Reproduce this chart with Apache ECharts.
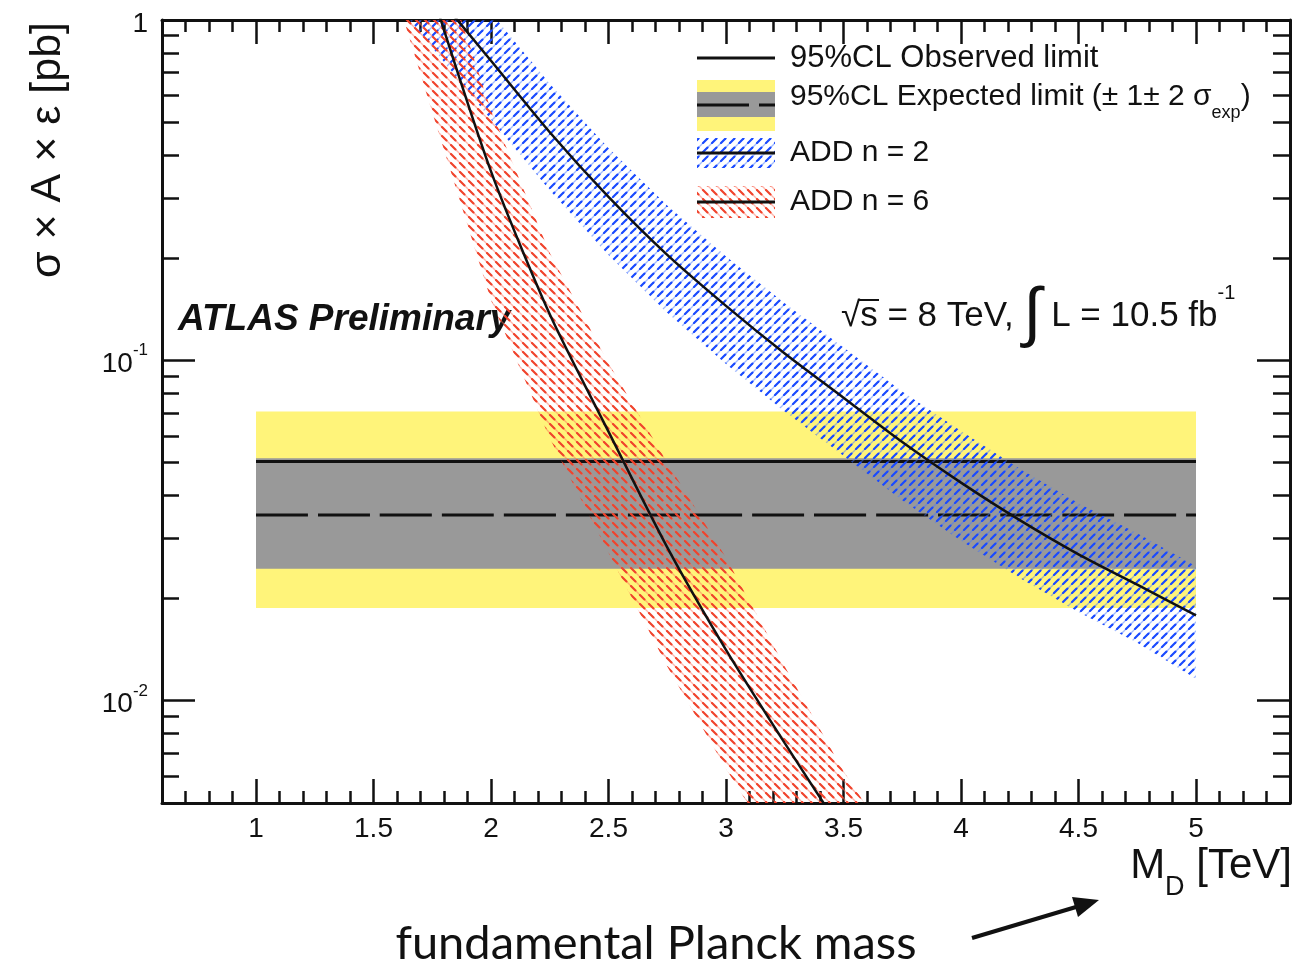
<!DOCTYPE html>
<html>
<head>
<meta charset="utf-8">
<title>ADD limits</title>
<script src="https://cdn.jsdelivr.net/npm/echarts@6/dist/echarts.min.js"></script>
<style>
  html, body { margin: 0; padding: 0; background: #fff; }
  #chart { width: 1307px; height: 972px; }
</style>
</head>
<body>
<div id="chart"></div>
<script>
// ---- data -------------------------------------------------------------
// M_D [TeV] grid for the ADD signal curves
const ADD2_MD = [1.5, 1.75, 2.0, 2.25, 2.5, 2.75, 3.0, 3.25, 3.5, 3.75, 4.0, 4.25, 4.5, 4.75, 5.0];
// ADD n=2: sigma x A x eps [pb], central value and theory band
const ADD2_XS    = [2.02, 1.23, 0.759, 0.468, 0.302, 0.204, 0.1445, 0.1047, 0.0776, 0.0575, 0.0437, 0.0339, 0.0269, 0.0219, 0.0178];
const ADD2_XS_HI = [2.79, 1.70, 1.05, 0.65, 0.42, 0.285, 0.202, 0.147, 0.109, 0.081, 0.062, 0.048, 0.038, 0.031, 0.0248];
const ADD2_XS_LO = [1.36, 0.83, 0.51, 0.316, 0.204, 0.138, 0.0975, 0.0707, 0.0524, 0.0388, 0.0295, 0.0229, 0.0182, 0.0148, 0.0116];

const ADD6_MD = [1.5, 1.75, 2.0, 2.25, 2.5, 2.75, 3.0, 3.25, 3.5, 3.75];
// ADD n=6
const ADD6_XS    = [4.4, 1.20, 0.359, 0.1365, 0.0617, 0.0282, 0.0141, 0.0075, 0.00407, 0.00224];
const ADD6_XS_HI = [6.6, 1.82, 0.543, 0.2065, 0.098, 0.050, 0.0263, 0.0126, 0.0062, 0.0034];
const ADD6_XS_LO = [1.95, 0.536, 0.150, 0.059, 0.0272, 0.0126, 0.0063, 0.00335, 0.00182, 0.0010];

// Model-independent 95% CL limits on sigma x A x eps [pb]
const LIMIT_MD       = [1, 5];
const OBSERVED_LIMIT = [0.0504, 0.0504];
const EXPECTED_LIMIT = [0.0351, 0.0351];
const EXP_1S_LO = [0.0244, 0.0244];
const EXP_1S_HI = [0.0515, 0.0515];
const EXP_2S_LO = [0.0187, 0.0187];
const EXP_2S_HI = [0.0707, 0.0707];

// axis ticks
const X_LABELS = [1, 1.5, 2, 2.5, 3, 3.5, 4, 4.5, 5];
const Y_LABELS = [0.01, 0.1, 1];
const Y_MINOR  = [0.006, 0.007, 0.008, 0.009,
                  0.02, 0.03, 0.04, 0.05, 0.06, 0.07, 0.08, 0.09,
                  0.2, 0.3, 0.4, 0.5, 0.6, 0.7, 0.8, 0.9];
const X_MINOR = [];
for (let k = 7; k <= 53; k++) { if (k % 5 !== 0) X_MINOR.push(k / 10); }

// ---- styling helpers ----------------------------------------------------
const FONT = "'Liberation Sans', Arial, Helvetica, sans-serif";
const INK = '#111';

function hatch(color, faint, dir) {
  const s = 9;
  const c = document.createElement('canvas');
  c.width = s; c.height = s;
  const g = c.getContext('2d');
  g.lineCap = 'round';
  for (let o = -s; o <= s; o += s) {
    g.strokeStyle = faint; g.lineWidth = 1.3;
    g.beginPath();
    if (dir > 0) { g.moveTo(o, s); g.lineTo(o + s, 0); }
    else { g.moveTo(o, 0); g.lineTo(o + s, s); }
    g.stroke();
    g.strokeStyle = color; g.lineWidth = 2.1;
    g.beginPath();
    if (dir > 0) { g.moveTo(o + 1, s - 1); g.lineTo(o + 5.5, s - 5.5); }
    else { g.moveTo(o + 1, 1); g.lineTo(o + 5.5, 5.5); }
    g.stroke();
  }
  return { image: c, repeat: 'repeat' };
}
const BLUE_HATCH = hatch('#1a4aff', 'rgba(70,120,255,0.5)', 1);
const RED_HATCH  = hatch('#f0432c', 'rgba(255,110,90,0.5)', -1);
const YELLOW = '#fff47a';
const GRAY = '#999999';

function band(name, xs, lo, hi, fill, z) {
  return {
    type: 'custom', name: name, xAxisIndex: 0, yAxisIndex: 0,
    clip: true, silent: true, z: z,
    data: [[xs[xs.length - 1], lo[lo.length - 1]]],
    renderItem: function (params, api) {
      const pts = [];
      for (let i = 0; i < xs.length; i++) pts.push(api.coord([xs[i], hi[i]]));
      for (let i = xs.length - 1; i >= 0; i--) pts.push(api.coord([xs[i], lo[i]]));
      return { type: 'polygon', shape: { points: pts }, style: { fill: fill } };
    }
  };
}
function curve(name, xs, ys, width, type, z) {
  return {
    type: 'line', name: name, xAxisIndex: 0, yAxisIndex: 0,
    data: xs.map((x, i) => [x, ys[i]]),
    symbol: 'none', smooth: 0.25, clip: true, silent: true, z: z,
    lineStyle: { color: INK, width: width, type: type || 'solid' }
  };
}

function xAxisDef(pos, ticks, len, withLine, withLabels) {
  return {
    type: 'value', position: pos, min: 0.6, max: 5.4,
    axisLine: { show: withLine, onZero: false, lineStyle: { color: INK, width: 3 } },
    axisTick: { show: true, inside: true, length: len, customValues: ticks,
                lineStyle: { color: INK, width: 2.5 } },
    axisLabel: withLabels ? {
      show: true, customValues: X_LABELS, margin: 12,
      fontFamily: FONT, fontSize: 28, color: INK
    } : { show: false },
    splitLine: { show: false }
  };
}
function yAxisDef(pos, ticks, len, withLine, withLabels) {
  return {
    type: 'log', logBase: 10, position: pos, min: 0.005, max: 1,
    axisLine: { show: withLine, onZero: false, lineStyle: { color: INK, width: 3 } },
    axisTick: { show: true, inside: true, length: len, customValues: ticks,
                lineStyle: { color: INK, width: 2.5 } },
    axisLabel: withLabels ? {
      show: true, customValues: Y_LABELS, margin: 14,
      formatter: function (v) {
        if (Math.abs(v - 1) < 1e-9) return '{b|1}';
        return '{b|10}{s|' + Math.round(Math.log10(v)) + '}';
      },
      rich: {
        b: { fontFamily: FONT, fontSize: 28, color: INK, lineHeight: 36, verticalAlign: 'bottom' },
        s: { fontFamily: FONT, fontSize: 17, color: INK, lineHeight: 17, verticalAlign: 'top' }
      }
    } : { show: false },
    splitLine: { show: false }
  };
}

// ---- legend / annotation graphics ----------------------------------------
const LX0 = 697, LX1 = 775, TX = 790;
const legendGraphics = [
  { type: 'line', shape: { x1: LX0, y1: 58, x2: LX1, y2: 58 }, style: { stroke: INK, lineWidth: 3 } },
  { type: 'text', x: TX, y: 58, style: { text: '95%CL Observed limit', font: '31px ' + FONT, fill: INK, verticalAlign: 'middle' } },

  { type: 'rect', shape: { x: LX0, y: 80, width: LX1 - LX0, height: 51 }, style: { fill: YELLOW } },
  { type: 'rect', shape: { x: LX0, y: 92, width: LX1 - LX0, height: 25 }, style: { fill: GRAY } },
  { type: 'line', shape: { x1: LX0, y1: 105, x2: LX1, y2: 105 }, style: { stroke: INK, lineWidth: 3, lineDash: [52, 10] } },
  { type: 'text', x: TX, y: 102, style: {
      text: '{m|95%CL Expected limit (± 1± 2 σ}{s|exp}{m|)}', verticalAlign: 'middle',
      rich: {
        m: { font: '30px ' + FONT, fill: INK, lineHeight: 40, verticalAlign: 'top' },
        s: { font: '18px ' + FONT, fill: INK, lineHeight: 18, verticalAlign: 'bottom' }
      } } },

  { type: 'rect', shape: { x: LX0, y: 138, width: LX1 - LX0, height: 30 }, style: { fill: BLUE_HATCH } },
  { type: 'line', shape: { x1: LX0, y1: 153, x2: LX1, y2: 153 }, style: { stroke: INK, lineWidth: 3 } },
  { type: 'text', x: TX, y: 153, style: { text: 'ADD n = 2', font: '30px ' + FONT, fill: INK, verticalAlign: 'middle' } },

  { type: 'rect', shape: { x: LX0, y: 186, width: LX1 - LX0, height: 32 }, style: { fill: RED_HATCH } },
  { type: 'line', shape: { x1: LX0, y1: 202, x2: LX1, y2: 202 }, style: { stroke: INK, lineWidth: 3 } },
  { type: 'text', x: TX, y: 202, style: { text: 'ADD n = 6', font: '30px ' + FONT, fill: INK, verticalAlign: 'middle' } },

  { type: 'text', x: 178, y: 320, style: { text: 'ATLAS Preliminary', font: 'italic bold 37px ' + FONT, fill: INK, verticalAlign: 'middle' } },

  { type: 'text', x: 841, y: 316, style: {
      text: '{m|√s = 8 TeV, }{i|∫}{m| L = 10.5 fb}{p|-1}', verticalAlign: 'middle',
      rich: {
        m: { font: '35px ' + FONT, fill: INK, lineHeight: 66, verticalAlign: 'middle' },
        i: { font: '66px ' + FONT, fill: INK, lineHeight: 66, verticalAlign: 'middle' },
        p: { font: '20px ' + FONT, fill: INK, lineHeight: 20, verticalAlign: 'top' }
      } } },
  { type: 'line', shape: { x1: 859, y1: 300, x2: 879, y2: 300 }, style: { stroke: INK, lineWidth: 2 } },

  // axis titles
  { type: 'text', x: 48, y: 150, rotation: Math.PI / 2, style: {
      text: 'σ × A × ε [pb]', font: '43px ' + FONT, fill: INK, align: 'center', verticalAlign: 'middle' } },
  { type: 'text', x: 1292, y: 873, style: {
      text: '{m|M}{s|D}{m| [TeV]}', align: 'right', verticalAlign: 'middle',
      rich: {
        m: { font: '42px ' + FONT, fill: INK, lineHeight: 56, verticalAlign: 'top' },
        s: { font: '27px ' + FONT, fill: INK, lineHeight: 27, verticalAlign: 'bottom' }
      } } },

  // caption with arrow to the axis title
  { type: 'text', x: 656, y: 944, style: {
      text: 'fundamental Planck mass', font: '47px Lato, "Noto Sans", sans-serif', fill: INK,
      align: 'center', verticalAlign: 'middle' } },
  { type: 'line', shape: { x1: 972, y1: 938, x2: 1076, y2: 907 }, style: { stroke: INK, lineWidth: 4 } },
  { type: 'polygon', shape: { points: [[1099, 900], [1078, 917], [1072, 897]] }, style: { fill: INK } }
];

// ---- chart --------------------------------------------------------------
const chart = echarts.init(document.getElementById('chart'), null, { renderer: 'canvas' });
chart.setOption({
  animation: false,
  backgroundColor: '#ffffff',
  grid: { left: 162, right: 17, top: 20, bottom: 169, containLabel: false },
  xAxis: [
    xAxisDef('bottom', X_LABELS, 24, true, true),
    xAxisDef('bottom', X_MINOR, 12, false, false),
    xAxisDef('top', X_LABELS, 24, true, false),
    xAxisDef('top', X_MINOR, 12, false, false)
  ],
  yAxis: [
    yAxisDef('left', Y_LABELS, 33, true, true),
    yAxisDef('left', Y_MINOR, 17, false, false),
    yAxisDef('right', Y_LABELS, 33, true, false),
    yAxisDef('right', Y_MINOR, 17, false, false)
  ],
  series: [
    band('Expected ±2σ', LIMIT_MD, EXP_2S_LO, EXP_2S_HI, YELLOW, 1),
    band('Expected ±1σ', LIMIT_MD, EXP_1S_LO, EXP_1S_HI, GRAY, 2),
    curve('Expected limit', LIMIT_MD, EXPECTED_LIMIT, 3, [52, 10], 3),
    curve('Observed limit', LIMIT_MD, OBSERVED_LIMIT, 3, 'solid', 3),
    band('ADD n = 2 band', ADD2_MD, ADD2_XS_LO, ADD2_XS_HI, BLUE_HATCH, 4),
    band('ADD n = 6 band', ADD6_MD, ADD6_XS_LO, ADD6_XS_HI, RED_HATCH, 4),
    curve('ADD n = 2', ADD2_MD, ADD2_XS, 2.5, 'solid', 5),
    curve('ADD n = 6', ADD6_MD, ADD6_XS, 2.5, 'solid', 5)
  ],
  graphic: legendGraphics
});
</script>
</body>
</html>
